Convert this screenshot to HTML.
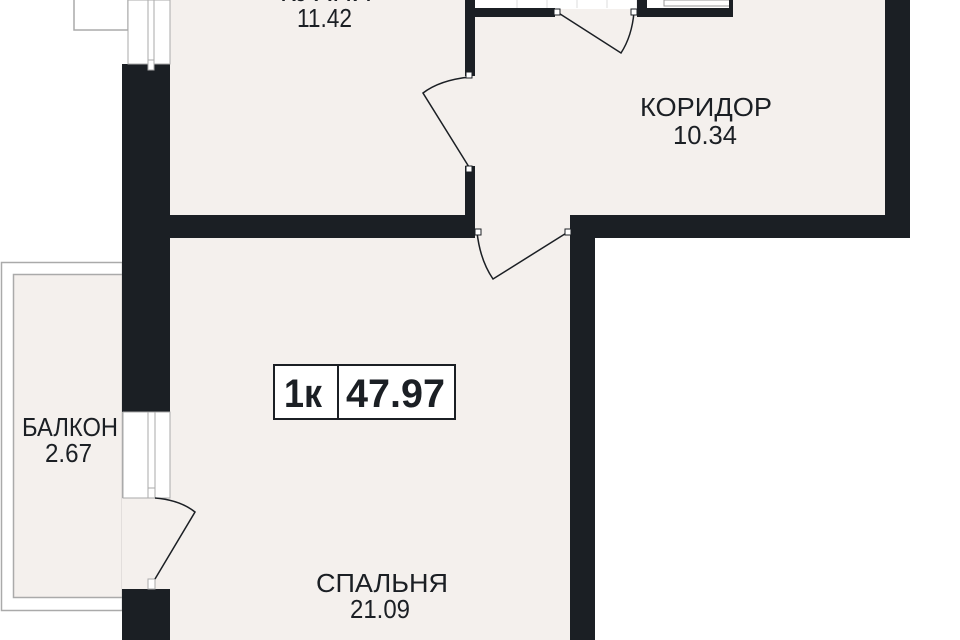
<!DOCTYPE html>
<html><head><meta charset="utf-8"><style>
html,body{margin:0;padding:0;background:#fff;}
svg{display:block;}
text{font-family:"Liberation Sans","DejaVu Sans",sans-serif;fill:#1b1f24;}
</style></head><body>
<svg width="960" height="640" viewBox="0 0 960 640" xmlns="http://www.w3.org/2000/svg">
<rect width="960" height="640" fill="#fff"/>
<!-- balcony -->
<rect x="1.5" y="262.5" width="121" height="348" fill="#fff" stroke="#aaa" stroke-width="1.5"/>
<rect x="13.5" y="274.5" width="109" height="323" fill="#f4f0ed" stroke="#aaa" stroke-width="1.5"/>
<!-- top-left box -->
<rect x="74" y="-2" width="54" height="32" fill="#fff" stroke="#aaa" stroke-width="1.5"/>
<!-- floors -->
<rect x="170" y="0" width="300" height="215" fill="#f4f0ed"/>
<rect x="470" y="0" width="415" height="215" fill="#f4f0ed"/>
<rect x="170" y="238" width="400" height="402" fill="#f4f0ed"/>
<rect x="470" y="210" width="100" height="30" fill="#f4f0ed"/>
<rect x="122" y="498" width="48" height="91" fill="#f4f0ed"/>
<!-- bathroom strip top -->
<rect x="475" y="0" width="257" height="9" fill="#fff"/>
<g stroke="#ddd" stroke-width="1"><line x1="517" y1="0" x2="517" y2="8"/><line x1="547" y1="0" x2="547" y2="8"/><line x1="577" y1="0" x2="577" y2="8"/><line x1="607" y1="0" x2="607" y2="8"/><line x1="637" y1="0" x2="637" y2="8"/></g>
<rect x="664" y="0" width="66" height="6" fill="#fff" stroke="#999" stroke-width="1"/>
<!-- walls -->
<g fill="#1b1f24">
<rect x="122" y="64" width="48" height="348"/>
<rect x="122" y="589" width="48" height="51"/>
<rect x="170" y="215" width="305" height="23"/>
<rect x="465" y="0" width="10" height="76"/>
<rect x="465" y="166" width="10" height="60"/>
<rect x="475" y="8" width="80" height="9"/>
<rect x="637" y="0" width="10" height="17"/>
<rect x="637" y="8" width="95" height="9"/>
<rect x="729" y="0" width="4" height="17"/>
<rect x="885" y="0" width="25" height="238"/>
<rect x="570" y="215" width="340" height="23"/>
<rect x="570" y="215" width="25" height="425"/>
</g>
<!-- windows -->
<rect x="128" y="0" width="42" height="64" fill="#fff" stroke="#aaa" stroke-width="1"/>
<line x1="148" y1="0" x2="148" y2="70" stroke="#aaa"/><line x1="154" y1="0" x2="154" y2="70" stroke="#aaa"/>
<rect x="148" y="60" width="6" height="10" fill="#fff" stroke="#aaa"/>
<rect x="123" y="412" width="47" height="86" fill="#fff" stroke="#aaa" stroke-width="1"/>
<line x1="148" y1="412" x2="148" y2="498" stroke="#aaa"/><line x1="155" y1="412" x2="155" y2="498" stroke="#aaa"/>
<line x1="148" y1="488" x2="155" y2="488" stroke="#aaa"/>
<rect x="148" y="579" width="7" height="10" fill="#fff" stroke="#aaa"/>
<!-- doors -->
<g fill="none" stroke="#1b1f24" stroke-width="1.5">
<path d="M155 498 Q180 500 195 512 L155 579"/>
<path d="M470 77 Q440 80 423 93 L469 167"/>
<path d="M557 12 L621 53 Q632 36 634 12"/>
<path d="M477 232 Q480 260 493 279 L568 232"/>
</g>
<g fill="#fff" stroke="#1b1f24" stroke-width="1">
<rect x="466" y="72" width="6" height="6"/><rect x="466" y="166" width="6" height="6"/>
<rect x="554" y="9" width="6" height="6"/><rect x="631" y="9" width="6" height="6"/>
<rect x="475" y="229" width="6" height="6"/><rect x="565" y="229" width="6" height="6"/>
</g>
<!-- labels -->
<text x="280" y="1" font-size="26" textLength="92" lengthAdjust="spacingAndGlyphs">КУХНЯ</text>
<text x="297" y="27" font-size="26" textLength="55" lengthAdjust="spacingAndGlyphs">11.42</text>
<text x="640" y="116" font-size="26" textLength="132" lengthAdjust="spacingAndGlyphs">КОРИДОР</text>
<text x="673" y="144" font-size="26" textLength="64" lengthAdjust="spacingAndGlyphs">10.34</text>
<text x="22" y="436" font-size="26" textLength="96" lengthAdjust="spacingAndGlyphs">БАЛКОН</text>
<text x="45" y="462" font-size="26" textLength="47" lengthAdjust="spacingAndGlyphs">2.67</text>
<text x="316" y="592" font-size="26" textLength="132" lengthAdjust="spacingAndGlyphs">СПАЛЬНЯ</text>
<text x="350" y="618" font-size="26" textLength="60" lengthAdjust="spacingAndGlyphs">21.09</text>
<!-- badge -->
<rect x="274" y="365" width="181" height="54" fill="#fff" stroke="#1b1f24" stroke-width="2"/>
<line x1="338" y1="365" x2="338" y2="419" stroke="#1b1f24" stroke-width="2"/>
<text x="284" y="407" font-size="40" font-weight="bold" textLength="38" lengthAdjust="spacingAndGlyphs">1к</text>
<text x="346" y="407" font-size="40" font-weight="bold" textLength="99" lengthAdjust="spacingAndGlyphs">47.97</text>
</svg>
</body></html>
